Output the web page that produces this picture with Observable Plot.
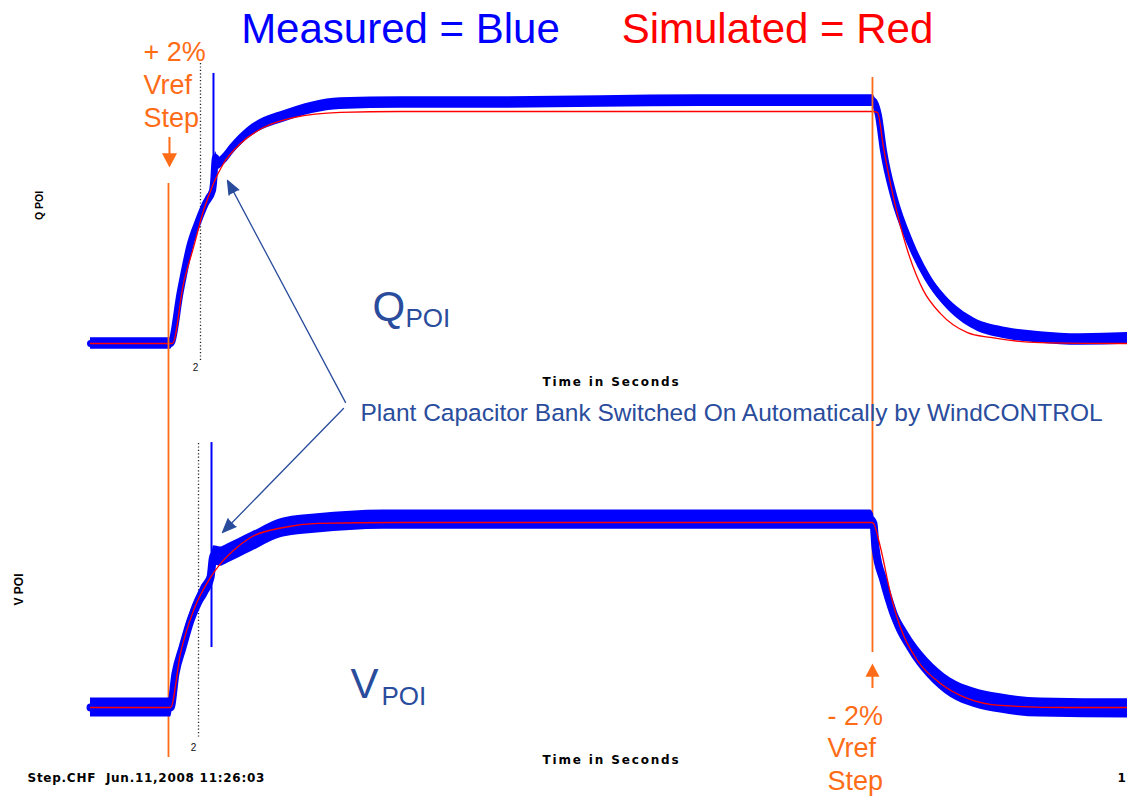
<!DOCTYPE html>
<html><head><meta charset="utf-8">
<script src="https://cdn.jsdelivr.net/npm/d3@7"></script>
<script src="https://cdn.jsdelivr.net/npm/@observablehq/plot@0.6"></script>
<style>
html,body{margin:0;padding:0;background:#fff;overflow:hidden}
#chart{position:relative;width:1127px;height:797px;background:#fff}
#chart svg{position:absolute;left:0;top:0;background:transparent !important}
</style></head><body><div id="chart"></div>
<script>
// ---------- DATA (time in seconds; each trace normalised to its simulated step size) ----------
// Q POI measured (blue)
const qMeasT = [0, 1.418, 1.455, 1.636, 1.818, 1.964, 2.091, 2.218, 2.236, 2.273, 2.327, 2.4, 2.545, 2.855, 3.145, 3.455, 4.055, 4.545, 5.636, 7.455, 9.273, 11.091, 12.909, 14.218, 14.255, 14.327, 14.418, 14.6, 14.909, 15.218, 15.582, 16.055, 16.673, 17.273, 18.0, 18.855];
const qMeasV = [0, 0, 0, 0.228, 0.431, 0.530, 0.603, 0.659, 0.690, 0.802, 0.776, 0.789, 0.832, 0.905, 0.948, 0.974, 1.017, 1.034, 1.039, 1.039, 1.043, 1.047, 1.047, 1.047, 1.039, 0.983, 0.832, 0.638, 0.431, 0.284, 0.172, 0.086, 0.043, 0.026, 0.017, 0.022];
// Q POI simulated (red)
const qSimT = [0, 1.491, 1.691, 1.873, 2.055, 2.236, 2.418, 2.727, 3.145, 3.691, 4.545, 5.636, 14.218, 14.309, 14.418, 14.6, 14.855, 15.145, 15.455, 15.945, 16.364, 17.273, 18.855];
const qSimV = [0, 0, 0.259, 0.414, 0.573, 0.690, 0.776, 0.862, 0.931, 0.974, 0.996, 1.0, 1.0, 0.996, 0.845, 0.629, 0.401, 0.228, 0.129, 0.047, 0.026, 0.004, 0];
// V POI measured (blue)
const vMeasT = [0, 1.455, 1.545, 1.673, 1.818, 2.0, 2.182, 2.236, 2.364, 2.491, 2.909, 3.509, 4.127, 5.327, 9.273, 14.182, 14.236, 14.273, 14.418, 14.6, 14.855, 15.218, 15.636, 16.055, 16.545, 17.273, 18.855];
const vMeasV = [0, 0, 0.184, 0.324, 0.470, 0.595, 0.703, 0.822, 0.816, 0.832, 0.892, 0.973, 0.995, 1.016, 1.016, 1.016, 0.995, 0.865, 0.686, 0.508, 0.362, 0.216, 0.108, 0.054, 0.022, 0, -0.005];
// V POI simulated (red)
const vSimT = [0, 1.455, 1.636, 1.873, 2.182, 2.364, 2.6, 2.909, 3.509, 4.127, 5.636, 14.218, 14.236, 14.364, 14.545, 14.727, 15.036, 15.455, 15.945, 16.545, 17.764, 18.855];
const vSimV = [0, 0, 0.292, 0.524, 0.703, 0.778, 0.849, 0.919, 0.973, 0.995, 1.0, 1.0, 0.995, 0.865, 0.616, 0.432, 0.254, 0.130, 0.049, 0.011, 0, 0];
// capacitor-switching spikes in the measured traces
const qSpike = [{t: 2.236, lo: 0.672, hi: 1.164}];
const vSpike = [{t: 2.2, lo: 0.324, hi: 1.432}];
// Vref step instants
const stepUpT = 1.418, stepDownT = 14.218;
// cursor at t = 2 s
const cursorLabel = "2";

// ---------- build ----------
const zip = (T, V) => T.map((t, i) => ({t, v: V[i]}));
const qMeas = zip(qMeasT, qMeasV), qSim = zip(qSimT, qSimV);
const vMeas = zip(vMeasT, vMeasV), vSim = zip(vSimT, vSimV);

const BLUE = "#0000FF", RED = "#FF0000", ORANGE = "#FF6C17", NAVY = "#2A4C9C";
const SANS = "Liberation Sans, Arial, sans-serif";
const W = 1127, H = 797;
const common = {
  width: W, height: H, marginLeft: 90, marginRight: 0,
  x: {domain: [0, 18.855], axis: null},
  style: {background: "transparent"}
};
const qHalf = 0.025, vHalf = 0.052;

const topPlot = Plot.plot({
  ...common,
  marginTop: 111, marginBottom: 454,
  y: {domain: [0, 1], axis: null},
  marks: [
    Plot.ruleX([{t: 2.0, y1: 1.207, y2: -0.082}], {x: "t", y1: "y1", y2: "y2", stroke: "#222", strokeWidth: 1.3, strokeDasharray: "1.2,2.2"}),
    Plot.areaY(qMeas, {x: "t", y1: d => d.v - qHalf, y2: d => d.v + qHalf, fill: BLUE, curve: "monotone-x"}),
    Plot.line(qMeas, {x: "t", y: "v", stroke: BLUE, strokeWidth: 7, curve: "monotone-x"}),
    Plot.ruleX(qSpike, {x: "t", y1: "lo", y2: "hi", stroke: BLUE, strokeWidth: 2}),
    Plot.line(qSim, {x: "t", y: "v", stroke: RED, strokeWidth: 1.3, curve: "monotone-x"}),
    Plot.ruleX([{t: stepUpT, y1: 0.690, y2: -1.784}], {x: "t", y1: "y1", y2: "y2", stroke: ORANGE, strokeWidth: 1.8}),
    Plot.ruleX([{t: stepDownT, y1: 1.147, y2: -1.332}], {x: "t", y1: "y1", y2: "y2", stroke: ORANGE, strokeWidth: 1.8}),
    // +2% step marker
    Plot.ruleX([{t: 1.436, y1: 0.888, y2: 0.80}], {x: "t", y1: "y1", y2: "y2", stroke: ORANGE, strokeWidth: 2}),
    Plot.arrow([{x1: 1.436, y1: 1.047, x2: 1.436, y2: 0.759}], {x1: "x1", y1: "y1", x2: "x2", y2: "y2", stroke: "none", fill: ORANGE, strokeWidth: 1.5, headLength: 16, headAngle: 56}),
    Plot.text(["+ 2%\nVref\nStep"], {x: 0.964, y: 1.319, text: d => d, textAnchor: "start", lineAnchor: "top", lineHeight: 1.22, fontSize: 27, fontFamily: SANS, fill: ORANGE}),
    // title
    Plot.text(["Measured = Blue"], {x: 5.636, y: 1.297, text: d => d, lineAnchor: "bottom", fontSize: 42, fontFamily: SANS, fill: BLUE}),
    Plot.text(["Simulated = Red"], {x: 12.491, y: 1.297, text: d => d, lineAnchor: "bottom", fontSize: 42, fontFamily: SANS, fill: RED}),
    // labels
    Plot.text([cursorLabel], {x: 1.909, y: -0.103, text: d => d, fontSize: 10, fontFamily: SANS, fill: "#111"}),
    Plot.text(["Q"], {x: 5.127, y: 0.099, text: d => d, textAnchor: "start", lineAnchor: "bottom", fontSize: 42, fontFamily: SANS, fill: NAVY}),
    Plot.text(["POI"], {x: 5.727, y: 0.069, text: d => d, textAnchor: "start", lineAnchor: "bottom", fontSize: 26, fontFamily: SANS, fill: NAVY}),
    Plot.text(["Time in Seconds"], {x: 9.473, y: -0.185, text: d => d, lineAnchor: "bottom", fontSize: 12, fontWeight: "bold", fontFamily: "DejaVu Sans", fill: "#000"}),
    Plot.text(["Q POI"], {x: -0.927, y: 0.595, text: d => d, rotate: -90, fontSize: 10.5, fontWeight: "bold", fontFamily: SANS, fill: "#000"}),
    Plot.text(["Plant Capacitor Bank Switched On Automatically by WindCONTROL"], {x: 4.909, y: -0.336, text: d => d, textAnchor: "start", lineAnchor: "bottom", fontSize: 24.5, fontFamily: SANS, fill: NAVY}),
    Plot.arrow([{x1: 4.636, y1: -0.254, x2: 2.491, y2: 0.703}], {x1: "x1", y1: "y1", x2: "x2", y2: "y2", stroke: NAVY, fill: NAVY, strokeWidth: 1.3, headLength: 17, headAngle: 44})
  ]
});

const botPlot = Plot.plot({
  ...common,
  marginTop: 522, marginBottom: 90,
  y: {domain: [0, 1], axis: null},
  marks: [
    Plot.ruleX([{t: 1.964, y1: 1.427, y2: -0.168}], {x: "t", y1: "y1", y2: "y2", stroke: "#222", strokeWidth: 1.3, strokeDasharray: "1.2,2.2"}),
    Plot.areaY(vMeas, {x: "t", y1: d => d.v - vHalf, y2: d => d.v + vHalf, fill: BLUE, curve: "monotone-x"}),
    Plot.line(vMeas, {x: "t", y: "v", stroke: BLUE, strokeWidth: 8, curve: "monotone-x"}),
    Plot.ruleX(vSpike, {x: "t", y1: "lo", y2: "hi", stroke: BLUE, strokeWidth: 2}),
    Plot.line(vSim, {x: "t", y: "v", stroke: RED, strokeWidth: 1.3, curve: "monotone-x"}),
    // -2% step marker
    Plot.ruleX([{t: stepDownT, y1: 0.168, y2: 0.103}], {x: "t", y1: "y1", y2: "y2", stroke: ORANGE, strokeWidth: 2}),
    Plot.arrow([{x1: stepDownT, y1: -0.178, x2: stepDownT, y2: 0.238}], {x1: "x1", y1: "y1", x2: "x2", y2: "y2", stroke: "none", fill: ORANGE, strokeWidth: 1.5, headLength: 15, headAngle: 56}),
    Plot.text(["- 2%\nVref\nStep"], {x: 13.4, y: 0.027, text: d => d, textAnchor: "start", lineAnchor: "top", lineHeight: 1.19, fontSize: 27, fontFamily: SANS, fill: ORANGE}),
    // labels
    Plot.text([cursorLabel], {x: 1.873, y: -0.216, text: d => d, fontSize: 10, fontFamily: SANS, fill: "#111"}),
    Plot.text(["V"], {x: 4.727, y: 0.049, text: d => d, textAnchor: "start", lineAnchor: "bottom", fontSize: 42, fontFamily: SANS, fill: NAVY}),
    Plot.text(["POI"], {x: 5.291, y: 0.011, text: d => d, textAnchor: "start", lineAnchor: "bottom", fontSize: 26, fontFamily: SANS, fill: NAVY}),
    Plot.text(["Time in Seconds"], {x: 9.473, y: -0.308, text: d => d, lineAnchor: "bottom", fontSize: 12, fontWeight: "bold", fontFamily: "DejaVu Sans", fill: "#000"}),
    Plot.text(["V POI"], {x: -1.291, y: 0.638, text: d => d, rotate: -90, fontSize: 12, fontWeight: "bold", fontFamily: SANS, fill: "#000"}),
    Plot.text(["Step.CHF  Jun.11,2008 11:26:03"], {x: -1.145, y: -0.405, text: d => d, textAnchor: "start", lineAnchor: "bottom", fontSize: 12, fontWeight: "bold", fontFamily: "DejaVu Sans", fill: "#000"}),
    Plot.text(["1"], {x: 18.673, y: -0.405, text: d => d, textAnchor: "start", lineAnchor: "bottom", fontSize: 12, fontWeight: "bold", fontFamily: "DejaVu Sans", fill: "#000"}),
    Plot.arrow([{x1: 4.6, y1: 1.616, x2: 2.4, y2: 0.946}], {x1: "x1", y1: "y1", x2: "x2", y2: "y2", stroke: NAVY, fill: NAVY, strokeWidth: 1.3, headLength: 17, headAngle: 44})
  ]
});

const chart = document.getElementById("chart");
chart.append(topPlot, botPlot);
for (const svg of [topPlot, botPlot]) {
  d3.select(svg).selectAll("text").each(function () {
    const s = this.textContent;
    if (s === "Time in Seconds") this.setAttribute("letter-spacing", "1.85");
    if (s.startsWith("Step.CHF")) this.setAttribute("letter-spacing", "0.73");
  });
  svg.style.whiteSpace = "pre";
}
</script></body></html>
